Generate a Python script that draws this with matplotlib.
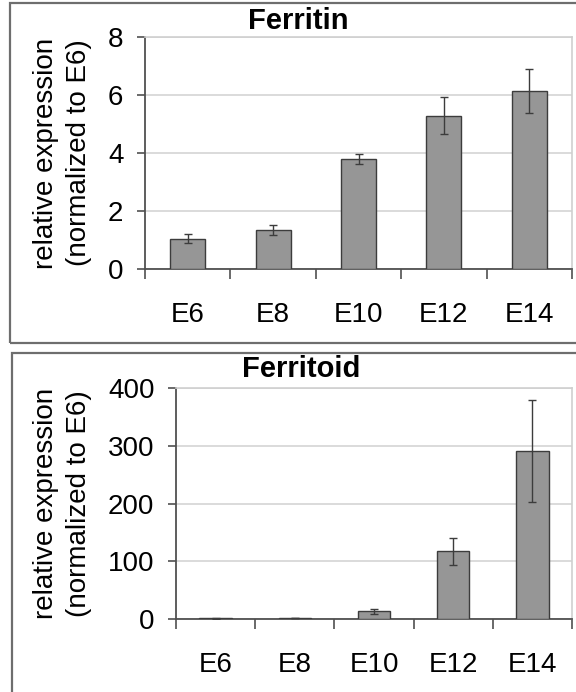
import matplotlib
matplotlib.use("Agg")
import matplotlib.pyplot as plt
from matplotlib.patches import Rectangle

plt.rcParams['font.family'] = ['Liberation Sans', 'DejaVu Sans']

categories = ["E6", "E8", "E10", "E12", "E14"]
ferritin_vals = [1.05, 1.33, 3.80, 5.28, 6.14]
ferritin_err = [0.15, 0.17, 0.17, 0.64, 0.77]
ferritoid_vals = [1.0, 1.2, 13.0, 117.0, 291.0]
ferritoid_err = [0.3, 0.3, 4.0, 23.0, 89.0]
ferritin_ticks = [0, 2, 4, 6, 8]
ferritoid_ticks = [0, 100, 200, 300, 400]

W, H = 576, 692
fig = plt.figure(figsize=(W / 100, H / 100), dpi=100)

frame_col = "#6e6e6e"
def frame(x0, y0, x1, y1):
    r = Rectangle((x0 / W, 1 - y1 / H), (x1 - x0) / W, (y1 - y0) / H,
                  transform=fig.transFigure, fill=False, edgecolor=frame_col,
                  linewidth=1.6, zorder=0)
    fig.patches.append(r)

frame(10, 3, 590, 343)
frame(12, 353, 590, 720)

def panel(left, right, top, bottom, vals, errs, ticks, title, title_xy):
    ax = fig.add_axes([left / W, 1 - bottom / H, (right - left) / W, (bottom - top) / H])
    x = list(range(len(categories)))
    ax.bar(x, vals, width=0.41, color="#969696", edgecolor="#3c3c3c", linewidth=1.0, zorder=3)
    ax.errorbar(x, vals, yerr=errs, fmt="none", ecolor="#3c3c3c", elinewidth=1.0,
                capsize=3, capthick=1.0, zorder=4)
    ax.set_xlim(-0.5, len(categories) - 0.5)
    ax.set_ylim(ticks[0], ticks[-1])
    ax.set_yticks(ticks)
    ax.set_yticklabels([str(t) for t in ticks], fontsize=20)
    ax.yaxis.grid(True, color="#d4d4d4", linewidth=1.2, zorder=0)
    ax.set_axisbelow(True)
    ax.set_xticks([i - 0.5 for i in range(len(categories) + 1)])
    ax.set_xticklabels([])
    ax.set_xticks(x, minor=True)
    ax.set_xticklabels(categories, minor=True, fontsize=20)
    ax.tick_params(axis="x", which="major", direction="out", length=7.5, width=1.2, color="#505050")
    ax.tick_params(axis="x", which="minor", length=0, pad=24)
    ax.tick_params(axis="y", direction="out", length=5.5, width=1.2, color="#505050", pad=10)
    for s in ["left", "bottom"]:
        ax.spines[s].set_color("#505050")
        ax.spines[s].set_linewidth(1.3)
    for s in ["top", "right"]:
        ax.spines[s].set_color("#cfcfcf")
        ax.spines[s].set_linewidth(1.2)
    fig.text(title_xy[0] / W, 1 - title_xy[1] / H, title, ha="center", va="center",
             fontsize=21, fontweight="bold")
    yc = (top + bottom) / 2
    fig.text(46 / W, 1 - yc / H, "relative expression", rotation=90, ha="center", va="center",
             fontsize=20)
    fig.text(79 / W, 1 - yc / H, "(normalized to E6)", rotation=90, ha="center", va="center",
             fontsize=20)
    return ax

panel(145, 572, 37, 269, ferritin_vals, ferritin_err, ferritin_ticks, "Ferritin", (298, 21))
panel(176, 572, 388, 619, ferritoid_vals, ferritoid_err, ferritoid_ticks, "Ferritoid", (301, 369))

fig.savefig("out.png", dpi=100)
